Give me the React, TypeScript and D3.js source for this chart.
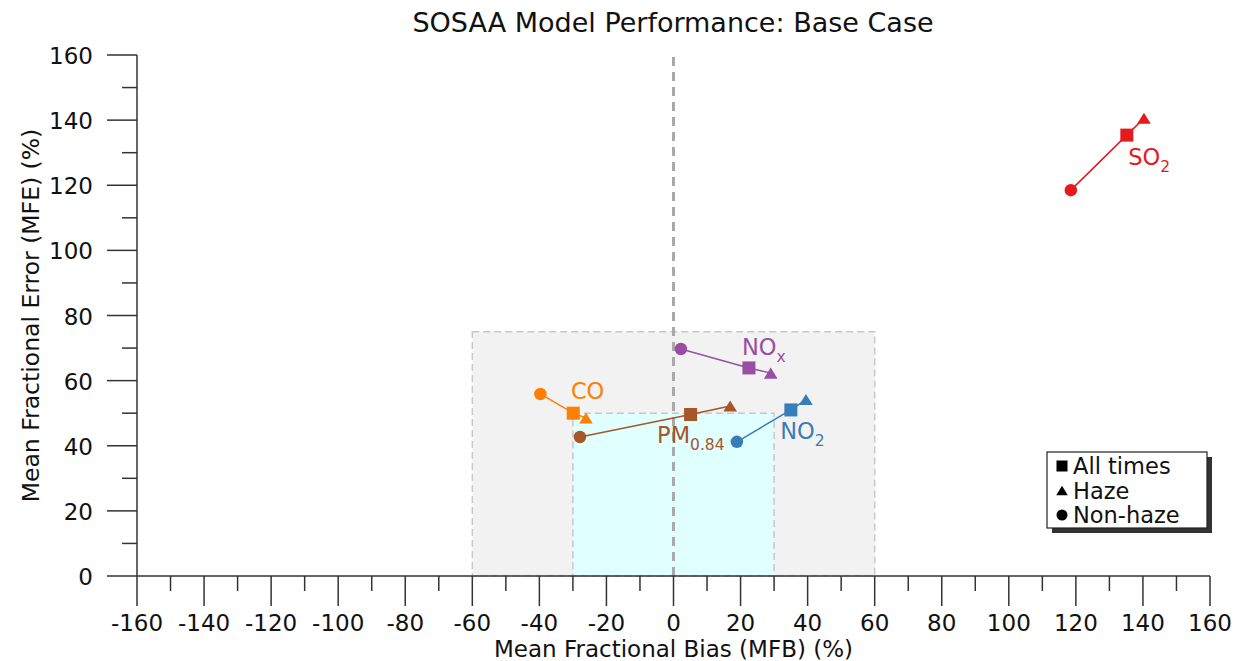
import React from "react";
import * as d3 from "d3";

// Species, with the three statistics (MFB, MFE) in percent
const species = ["SO2", "NOx", "CO", "PM0.84", "NO2"];
const colors = ["#e41a1c", "#984ea3", "#ff7f00", "#a65628", "#377eb8"];
const nonHazeMFB = [118.5, 2.2, -39.7, -27.9, 18.9];
const nonHazeMFE = [118.5, 69.7, 55.9, 42.7, 41.2];
const allMFB = [135.2, 22.5, -29.9, 5.1, 35.0];
const allMFE = [135.4, 63.9, 50.0, 49.6, 51.0];
const hazeMFB = [140.3, 29.0, -26.1, 16.9, 39.5];
const hazeMFE = [140.6, 62.3, 48.5, 52.2, 54.2];

// Label positions (data units) and text parts
const labelMain = ["SO", "NO", "CO", "PM", "NO"];
const labelSub = ["2", "x", "", "0.84", "2"];
const labelX = [135.6, 20.4, -30.6, -4.9, 31.8];
const labelY = [126.2, 67.9, 54.4, 40.8, 42.1];

const xTicks = d3.range(-160, 161, 20);
const xMinor = d3.range(-150, 160, 20);
const yTicks = d3.range(0, 161, 20);
const yMinor = d3.range(10, 160, 20);

const legendLabels = ["All times", "Haze", "Non-haze"];
const legendShapes = ["square", "triangle", "circle"];

const W = 1242;
const H = 661;
const left = 137;
const right = 1210;
const top = 55;
const bottom = 576;

const font = "DejaVu Sans, sans-serif";

function Marker({ shape, x, y, color, size }: { shape: string; x: number; y: number; color: string; size: number }) {
  if (shape === "square") {
    return <rect x={x - size / 2} y={y - size / 2} width={size} height={size} fill={color} />;
  }
  if (shape === "circle") {
    return <circle cx={x} cy={y} r={size / 2} fill={color} />;
  }
  const w = size * 1.05;
  const h = size * 0.85;
  const pts = [
    [x, y - h / 2],
    [x - w / 2, y + h / 2],
    [x + w / 2, y + h / 2],
  ];
  return <polygon points={pts.map((p) => p.join(",")).join(" ")} fill={color} />;
}

export default function App() {
  const x = d3.scaleLinear().domain([-160, 160]).range([left, right]);
  const y = d3.scaleLinear().domain([0, 160]).range([bottom, top]);

  return (
    <svg width={W} height={H} style={{ position: "absolute", left: 0, top: 0, background: "#fff" }} fontFamily={font}>
      {/* acceptable-performance zones */}
      <rect x={x(-60)} y={y(75)} width={x(60) - x(-60)} height={y(0) - y(75)} fill="#f2f2f2" stroke="#c8c8c8" strokeWidth={1.5} strokeDasharray="7,4" />
      <rect x={x(-30)} y={y(50)} width={x(30) - x(-30)} height={y(0) - y(50)} fill="#e0ffff" stroke="#c8c8c8" strokeWidth={1.5} strokeDasharray="7,4" />
      <line x1={x(0)} x2={x(0)} y1={y(0)} y2={y(160)} stroke="#a9a9a9" strokeWidth={3} strokeDasharray="9,6" />

      {/* axes */}
      <line x1={left} x2={right} y1={bottom} y2={bottom} stroke="#333" strokeWidth={1.5} />
      <line x1={left} x2={left} y1={top} y2={bottom} stroke="#333" strokeWidth={1.5} />
      {xTicks.map((t) => (
        <g key={"xt" + t}>
          <line x1={x(t)} x2={x(t)} y1={bottom} y2={bottom + 30} stroke="#333" strokeWidth={1.5} />
          <text x={x(t)} y={bottom + 55} textAnchor="middle" fontSize={23} fill="#111">{t}</text>
        </g>
      ))}
      {xMinor.map((t) => (
        <line key={"xm" + t} x1={x(t)} x2={x(t)} y1={bottom} y2={bottom + 15} stroke="#333" strokeWidth={1.5} />
      ))}
      {yTicks.map((t) => (
        <g key={"yt" + t}>
          <line x1={left - 30} x2={left} y1={y(t)} y2={y(t)} stroke="#333" strokeWidth={1.5} />
          <text x={left - 44} y={y(t) + 9} textAnchor="end" fontSize={23} fill="#111">{t}</text>
        </g>
      ))}
      {yMinor.map((t) => (
        <line key={"ym" + t} x1={left - 15} x2={left} y1={y(t)} y2={y(t)} stroke="#333" strokeWidth={1.5} />
      ))}

      <text x={(left + right) / 2} y={657} textAnchor="middle" fontSize={23} fill="#111">Mean Fractional Bias (MFB) (%)</text>
      <text transform={`translate(39,${(top + bottom) / 2}) rotate(-90)`} textAnchor="middle" fontSize={23.5} fill="#111">Mean Fractional Error (MFE) (%)</text>
      <text x={673} y={32} textAnchor="middle" fontSize={27} fill="#111">SOSAA Model Performance: Base Case</text>

      {/* species */}
      {species.map((s, i) => {
        const c = colors[i];
        const line = d3.line<[number, number]>()
          .x((d) => x(d[0]))
          .y((d) => y(d[1]));
        const pts: [number, number][] = [
          [nonHazeMFB[i], nonHazeMFE[i]],
          [allMFB[i], allMFE[i]],
          [hazeMFB[i], hazeMFE[i]],
        ];
        return (
          <g key={s}>
            <path d={line(pts) || ""} fill="none" stroke={c} strokeWidth={1.5} />
            <Marker shape="circle" x={x(nonHazeMFB[i])} y={y(nonHazeMFE[i])} color={c} size={12.5} />
            <Marker shape="square" x={x(allMFB[i])} y={y(allMFE[i])} color={c} size={13} />
            <Marker shape="triangle" x={x(hazeMFB[i])} y={y(hazeMFE[i])} color={c} size={13} />
            <text x={x(labelX[i])} y={y(labelY[i])} fontSize={22.5} fill={c}>
              {labelMain[i]}
              {labelSub[i] && (
                <tspan dy={7} fontSize={15.5}>{labelSub[i]}</tspan>
              )}
            </text>
          </g>
        );
      })}

      {/* legend */}
      <g>
        <rect x={1052} y={457} width={160} height={76} fill="#333" />
        <rect x={1047} y={452} width={160} height={76} fill="#fff" stroke="#222" strokeWidth={1.2} />
        {legendLabels.map((l, i) => (
          <g key={l}>
            <Marker shape={legendShapes[i]} x={1062} y={466 + i * 24.5} color="#000" size={11} />
            <text x={1073} y={474 + i * 24.5} fontSize={22.5} fill="#111">{l}</text>
          </g>
        ))}
      </g>
    </svg>
  );
}
